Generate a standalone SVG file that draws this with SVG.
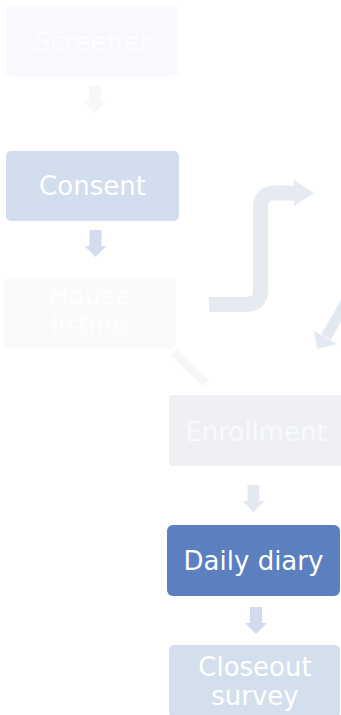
<svg xmlns="http://www.w3.org/2000/svg" width="341" height="715" viewBox="0 0 341 715">
<style>
text{font-family:"DejaVu Sans","Verdana",sans-serif;font-size:26px;text-anchor:middle}
</style>
<defs>
<path id="dn" d="M-6,0 H6 V16 H11 L0,27 L-11,16 H-6 Z"/>
</defs>
<rect width="341" height="715" fill="#ffffff"/>
<g id="connectors">
<use href="#dn" x="95" y="86" fill="#f5f7fa"/>
<use href="#dn" x="95.5" y="230" fill="#d2dded"/>
<path d="M209,304.5 H246 Q260.5,304.5 260.5,290 V208 Q260.5,193 275,193 H296" fill="none" stroke="#e6ebf2" stroke-width="15"/>
<polygon points="294,180 314,193 294,206" fill="#e6ebf2"/>
<path d="M352,292 L326,337" fill="none" stroke="#e3e9f1" stroke-width="11"/>
<polygon points="317,349 314,331 337,344" fill="#e3e9f1"/>
<path d="M173,352 L206,383" fill="none" stroke="#f6f8f6" stroke-width="9"/>
<use href="#dn" x="253.5" y="485" fill="#e4e9f1"/>
<use href="#dn" x="256" y="607" fill="#d1dcee"/>
</g>
<g id="screener">
<rect x="6" y="6" width="172" height="71" rx="5" fill="#f7f9fc"/>
<text x="92" y="51" fill="#fdfefe">Screener</text>
</g>
<g id="consent">
<rect x="6" y="151" width="173" height="70" rx="5" fill="#d2dded"/>
<text x="92.5" y="195" fill="#ffffff">Consent</text>
</g>
<g id="house-listing">
<rect x="4" y="278" width="172" height="70" rx="5" fill="#f9fafc"/>
<text x="90" y="305" fill="#fdfefe">House</text>
<text x="90" y="334" fill="#fdfefe">listing</text>
</g>
<g id="enrollment">
<rect x="169" y="395" width="176" height="71" rx="3" fill="#eef0f3"/>
<text x="256" y="441" fill="#f9fafb">Enrollment</text>
</g>
<g id="daily-diary">
<rect x="167" y="525" width="173" height="71" rx="6" fill="#5b7fbf"/>
<text x="253.5" y="570" fill="#ffffff">Daily diary</text>
</g>
<g id="closeout-survey">
<rect x="169" y="645" width="171" height="72" rx="5" fill="#d4dfee"/>
<text x="255" y="676" fill="#ffffff">Closeout</text>
<text x="255" y="705" fill="#ffffff">survey</text>
</g>
</svg>
